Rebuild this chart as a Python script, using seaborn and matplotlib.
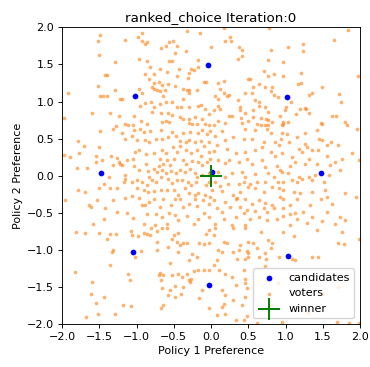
import matplotlib
matplotlib.use("Agg")
import matplotlib.pyplot as plt
import seaborn as sns

# Candidate positions in the two-policy preference space
cand_x = [-0.04, -1.02, 1.02, -1.47, 1.47, 0.01, -1.05, 1.03, -0.03]
cand_y = [1.49, 1.08, 1.06, 0.03, 0.04, 0.05, -1.03, -1.08, -1.48]

# Elected candidate
winner_x = [0.0]
winner_y = [0.0]

# Voter ideal points (policy 1, policy 2)
voters = [
    # upper left
    (-1.49, 1.90), (-1.52, 1.82), (-0.93, 1.92), (-0.98, 1.87), (-0.93, 1.81), (-0.86, 1.80),
    (-0.89, 1.77), (-1.16, 1.83), (-0.32, 1.95), (-0.15, 1.92), (-0.51, 1.82), (-0.57, 1.80),
    (-0.61, 1.75), (-0.46, 1.75), (-0.67, 1.72), (-0.34, 1.68), (-0.49, 1.66), (-1.51, 1.63),
    (-0.97, 1.57), (-1.29, 1.53), (-0.86, 1.54), (-0.56, 1.55), (-0.53, 1.54), (-0.17, 1.56),
    (0.00, 1.73), (-0.82, 1.46), (-0.68, 1.44), (-0.43, 1.44), (-0.27, 1.44), (-0.29, 1.39),
    (-0.23, 1.42), (-0.18, 1.47), (-0.89, 1.37), (-1.42, 1.36), (-1.39, 1.36), (-0.77, 1.37),
    (-0.83, 1.31), (-0.46, 1.34), (-0.31, 1.32), (-0.59, 1.40), (-0.70, 1.26), (-0.77, 1.25),
    (-0.58, 1.24), (-0.66, 1.22), (-0.48, 1.21), (-0.10, 1.26), (-0.07, 1.26), (-1.52, 1.21),
    (-1.29, 1.16), (-1.49, 1.07), (-1.45, 1.08), (-1.40, 1.08), (-1.22, 1.03), (-1.19, 1.04),
    (-1.92, 1.11), (-0.79, 1.20), (-0.77, 1.17), (-0.73, 1.15), (-0.69, 1.14), (-0.62, 1.16),
    (-0.37, 1.17), (-0.32, 1.16), (-0.30, 1.15), (-0.19, 1.16), (-0.97, 1.17), (-0.92, 1.12),
    (-0.30, 1.11), (-0.38, 1.03), (-0.52, 1.00), (-0.64, 1.07), (-0.89, 0.98), (-0.95, 0.94),
    (-0.80, 0.99), (-0.76, 0.92), (-0.79, 0.86), (-0.69, 0.97), (-0.61, 0.99), (-0.46, 0.92),
    (-0.40, 0.92), (-0.30, 0.92), (-0.17, 0.94), (-0.13, 0.95), (-0.08, 0.90), (-1.60, 0.84),
    (-1.35, 0.84), (-1.23, 0.80), (-1.04, 0.80), (-0.94, 0.74), (-0.67, 0.84), (-0.58, 0.84),
    (-0.52, 0.82), (-0.41, 0.79), (-0.38, 0.77), (-0.30, 0.77), (-0.22, 0.79), (-0.12, 0.77),
    (-0.03, 0.83), (-0.66, 0.72), (-0.61, 0.74), (-0.57, 0.73), (-1.16, 0.69), (-1.11, 0.68),
    (-1.05, 0.68), (-0.86, 0.70), (-1.28, 0.67), (-0.30, 0.71), (-0.26, 0.69), (-0.19, 0.70),
    (-0.08, 0.70), (-0.03, 0.68), (-1.98, 0.78),
    # upper right
    (0.17, 1.99), (0.78, 1.99), (1.84, 1.96), (0.26, 1.87), (0.19, 1.82), (0.27, 1.81),
    (0.38, 1.74), (0.42, 1.69), (0.36, 1.57), (0.42, 1.62), (0.80, 1.69), (1.04, 1.74),
    (1.23, 1.78), (1.24, 1.68), (1.65, 1.83), (0.76, 1.56), (0.96, 1.53), (0.71, 1.41),
    (0.84, 1.37), (0.76, 1.35), (1.21, 1.38), (0.97, 1.34), (0.53, 1.31), (0.50, 1.30),
    (0.65, 1.24), (0.73, 1.19), (0.82, 1.20), (0.56, 1.20), (0.09, 1.25), (0.18, 1.27),
    (1.17, 1.23), (1.21, 1.25), (1.97, 1.35), (1.49, 1.20), (0.12, 1.17), (0.17, 1.11),
    (0.21, 1.08), (0.24, 1.09), (0.05, 1.08), (0.46, 1.11), (0.55, 1.12), (0.80, 1.14),
    (0.84, 1.09), (0.90, 1.06), (1.35, 1.12), (1.32, 1.09), (1.72, 1.10), (1.75, 1.00),
    (0.36, 1.02), (0.59, 1.02), (0.64, 0.99), (0.64, 0.94), (0.72, 0.93), (0.77, 0.86),
    (0.39, 0.92), (0.39, 0.89), (0.09, 1.03), (0.09, 0.94), (0.12, 0.90), (0.04, 0.88),
    (1.08, 1.00), (1.00, 0.93), (0.99, 0.89), (1.20, 0.90), (1.26, 0.91), (1.27, 0.90),
    (1.32, 0.84), (1.14, 0.83), (0.46, 0.85), (0.56, 0.88), (0.24, 0.80), (0.28, 0.80),
    (0.40, 0.78), (0.57, 0.79), (0.67, 0.78), (0.74, 0.77), (0.77, 0.75), (0.82, 0.72),
    (0.50, 0.74), (0.93, 0.80), (0.96, 0.73), (1.03, 0.73), (0.97, 0.70), (0.10, 0.74),
    (0.19, 0.71), (0.41, 0.71), (0.62, 0.70), (0.67, 0.68), (0.73, 0.68), (0.77, 0.68),
    (1.62, 0.80), (1.68, 0.80), (1.80, 0.73), (1.82, 0.68), (1.47, 0.71), (1.49, 0.69),
    (0.04, 0.68), (0.95, 0.68), (1.96, 0.63),
    # middle left
    (-1.31, 0.63), (-1.20, 0.58), (-1.04, 0.62), (-0.95, 0.63), (-0.90, 0.59), (-0.82, 0.60),
    (-0.67, 0.61), (-0.52, 0.59), (-0.38, 0.58), (-0.28, 0.59), (-0.17, 0.57), (-0.12, 0.61),
    (-0.06, 0.56), (-0.01, 0.60), (-1.78, 0.47), (-1.71, 0.40), (-1.49, 0.60), (-1.16, 0.50),
    (-1.06, 0.53), (-0.99, 0.48), (-0.88, 0.48), (-0.83, 0.45), (-0.74, 0.49), (-0.66, 0.50),
    (-0.58, 0.52), (-0.47, 0.53), (-0.41, 0.47), (-0.34, 0.45), (-0.29, 0.48), (-0.22, 0.45),
    (-0.13, 0.47), (-0.03, 0.45), (-0.09, 0.40), (-1.50, 0.38), (-1.55, 0.27), (-1.46, 0.21),
    (-1.54, 0.18), (-1.89, 0.25), (-1.97, 0.28), (-1.77, 0.31), (-1.34, 0.26), (-1.26, 0.24),
    (-1.22, 0.16), (-1.19, 0.15), (-1.23, 0.18), (-1.13, 0.21), (-1.05, 0.22), (-1.02, 0.32),
    (-0.97, 0.34), (-0.87, 0.29), (-0.76, 0.31), (-0.66, 0.35), (-0.61, 0.30), (-0.51, 0.38),
    (-0.46, 0.32), (-0.41, 0.40), (-0.34, 0.34), (-0.27, 0.31), (-0.19, 0.34), (-0.13, 0.27),
    (-0.03, 0.32), (-0.01, 0.23), (-0.69, 0.23), (-0.65, 0.16), (-0.59, 0.21), (-0.55, 0.15),
    (-0.50, 0.23), (-0.38, 0.21), (-0.34, 0.16), (-0.26, 0.20), (-0.18, 0.19), (-0.12, 0.15),
    (-0.06, 0.19), (-1.80, 0.11), (-1.66, 0.11), (-1.31, 0.15), (-1.16, 0.01), (-1.15, -0.04),
    (-1.17, -0.09), (-1.03, 0.13), (-0.96, 0.08), (-0.87, 0.16), (-0.85, 0.06), (-0.77, 0.09),
    (-0.70, 0.13), (-0.73, 0.05), (-0.66, 0.08), (-0.61, 0.03), (-0.54, 0.06), (-0.47, 0.03),
    (-0.41, 0.08), (-0.35, 0.05), (-0.28, 0.09), (-0.22, 0.04), (-0.19, -0.02), (-0.12, 0.01),
    (-0.03, 0.03), (-1.37, -0.02), (-1.78, -0.20), (-1.69, -0.22), (-1.50, -0.17), (-1.43, -0.11),
    (-1.35, -0.17), (-1.26, -0.17), (-1.06, -0.09), (-0.99, -0.06), (-0.93, -0.09), (-0.86, -0.13),
    (-0.83, -0.02), (-0.79, -0.06), (-0.74, -0.08), (-0.67, -0.02), (-0.58, -0.04), (-0.53, -0.10),
    (-0.46, -0.06), (-0.39, -0.06), (-0.31, -0.09), (-0.27, -0.13), (-0.20, -0.09), (-0.07, -0.13),
    (-0.03, -0.09), (-0.99, -0.17), (-0.90, -0.20), (-0.85, -0.22), (-0.76, -0.21), (-0.67, -0.19),
    (-0.59, -0.20), (-0.50, -0.20), (-0.44, -0.26), (-0.41, -0.31), (-0.35, -0.17), (-0.30, -0.24),
    (-0.22, -0.26), (-0.17, -0.24), (-0.08, -0.26), (-0.01, -0.29), (-1.96, -0.33), (-1.64, -0.39),
    (-1.61, -0.42), (-1.53, -0.33), (-1.42, -0.44), (-1.32, -0.33), (-1.16, -0.30), (-1.06, -0.28),
    (-0.96, -0.30), (-0.93, -0.40), (-0.88, -0.39), (-0.83, -0.35), (-0.76, -0.32), (-0.68, -0.42),
    (-0.64, -0.32), (-0.54, -0.39), (-0.48, -0.31), (-0.37, -0.42), (-0.29, -0.38), (-0.21, -0.31),
    (-0.19, -0.41), (-0.11, -0.33), (-0.03, -0.38), (-1.44, -0.58), (-1.05, -0.57), (-0.90, -0.65),
    (-0.74, -0.52), (-0.66, -0.56), (-0.57, -0.50), (-0.48, -0.53), (-0.44, -0.60), (-0.32, -0.55),
    (-0.23, -0.65), (-0.17, -0.58), (-0.10, -0.50), (-0.03, -0.56), (-1.58, -0.65), (-1.26, -0.49),
    (-1.13, -0.50), (-0.86, -0.52), (-0.59, -0.65), (-0.75, -0.67),
    # middle right
    (0.15, 0.60), (0.46, 0.63), (0.59, 0.62), (0.75, 0.63), (0.81, 0.57), (0.95, 0.58),
    (1.02, 0.56), (0.94, 0.50), (1.05, 0.45), (1.15, 0.52), (1.26, 0.57), (1.42, 0.62),
    (1.45, 0.50), (1.49, 0.48), (1.61, 0.45), (1.71, 0.41), (1.56, 0.41), (0.06, 0.54),
    (0.19, 0.48), (0.30, 0.52), (0.44, 0.50), (0.55, 0.49), (0.71, 0.45), (0.86, 0.45),
    (0.91, 0.42), (1.26, 0.43), (1.29, 0.39), (1.18, 0.36), (1.35, 0.34), (1.44, 0.35),
    (0.08, 0.41), (0.04, 0.33), (0.21, 0.36), (0.33, 0.31), (0.46, 0.32), (0.59, 0.34),
    (0.68, 0.39), (0.80, 0.32), (0.86, 0.26), (0.95, 0.30), (1.09, 0.25), (1.22, 0.32),
    (1.31, 0.23), (1.56, 0.27), (1.67, 0.18), (1.76, 0.23), (1.89, 0.30), (1.98, 0.21),
    (0.10, 0.21), (0.19, 0.17), (0.24, 0.21), (0.37, 0.19), (0.48, 0.23), (0.55, 0.16),
    (0.68, 0.21), (0.73, 0.12), (0.88, 0.13), (0.93, 0.08), (0.95, 0.05), (1.06, 0.13),
    (1.13, 0.18), (1.26, 0.16), (1.42, 0.16), (1.60, 0.14), (1.73, 0.07), (0.10, 0.05),
    (0.19, -0.02), (0.28, 0.03), (0.42, 0.05), (0.46, -0.02), (0.59, 0.02), (0.77, 0.03),
    (0.84, -0.02), (1.04, 0.03), (1.18, -0.02), (1.31, -0.02), (1.40, 0.01), (1.58, 0.01),
    (0.06, -0.08), (0.12, -0.14), (0.23, -0.11), (0.37, -0.11), (0.44, -0.08), (0.53, -0.11),
    (0.62, -0.08), (0.73, -0.08), (0.90, -0.08), (0.97, -0.08), (1.09, -0.06), (1.15, -0.08),
    (1.22, -0.04), (1.35, -0.06), (1.51, -0.08), (0.01, -0.20), (0.15, -0.21), (0.30, -0.26),
    (0.35, -0.30), (0.39, -0.22), (0.50, -0.15), (0.59, -0.17), (0.71, -0.22), (0.82, -0.15),
    (0.91, -0.17), (0.97, -0.19), (1.11, -0.22), (1.20, -0.23), (1.35, -0.22), (1.53, -0.20),
    (1.56, -0.29), (1.80, -0.24), (0.04, -0.33), (0.19, -0.35), (0.33, -0.31), (0.46, -0.31),
    (0.55, -0.38), (0.64, -0.33), (0.73, -0.37), (0.82, -0.40), (0.93, -0.29), (0.97, -0.32),
    (1.06, -0.40), (1.15, -0.32), (1.33, -0.39), (1.47, -0.31), (1.62, -0.38), (1.94, -0.29),
    (0.08, -0.44), (0.15, -0.49), (0.26, -0.42), (0.39, -0.42), (0.48, -0.46), (0.59, -0.47),
    (0.71, -0.44), (0.75, -0.49), (0.84, -0.44), (0.97, -0.44), (1.06, -0.52), (1.13, -0.50),
    (1.24, -0.49), (1.35, -0.56), (1.56, -0.49), (1.73, -0.56), (0.17, -0.58), (0.33, -0.56),
    (0.44, -0.51), (0.53, -0.58), (0.64, -0.56), (0.75, -0.60), (0.88, -0.59), (0.97, -0.55),
    (1.15, -0.58), (1.49, -0.61), (1.67, -0.65), (1.80, -0.60), (0.06, -0.65), (0.28, -0.66),
    (0.46, -0.66), (1.06, -0.67), (1.29, -0.64),
    # lower left
    (-1.81, -0.76), (-1.69, -0.77), (-1.51, -0.77), (-1.35, -0.79), (-1.28, -0.78), (-1.39, -0.86),
    (-1.08, -0.74), (-1.06, -0.80), (-0.98, -0.81), (-0.90, -0.77), (-0.86, -0.79), (-0.82, -0.80),
    (-0.80, -0.71), (-0.73, -0.74), (-0.66, -0.71), (-0.59, -0.70), (-0.50, -0.80), (-0.44, -0.77),
    (-0.46, -0.89), (-0.52, -0.85), (-0.41, -0.94), (-0.38, -0.91), (-0.32, -0.91), (-0.44, -1.03),
    (-0.30, -1.14), (-0.26, -1.05), (-0.19, -1.09), (-0.16, -0.91), (-0.10, -0.92), (-0.03, -0.91),
    (-0.07, -0.79), (-0.03, -0.73), (-0.73, -0.89), (-0.73, -1.00), (-0.58, -0.96), (-1.32, -1.00),
    (-1.33, -1.03), (-0.94, -1.01), (-1.02, -1.10), (-0.55, -1.18), (-1.36, -1.21), (-1.82, -1.30),
    (-1.11, -1.33), (-1.09, -1.41), (-0.68, -1.31), (-0.70, -1.34), (-0.64, -1.34), (-0.52, -1.34),
    (-0.44, -1.32), (-0.67, -1.41), (-0.66, -1.51), (-0.55, -1.54), (-0.48, -1.49), (-0.39, -1.36),
    (-0.32, -1.32), (-0.27, -1.39), (-0.23, -1.29), (-0.17, -1.27), (-0.10, -1.27), (-0.03, -1.27),
    (-0.30, -1.41), (-0.28, -1.43), (-0.12, -1.54), (-0.16, -1.65), (-1.60, -1.44), (-1.61, -1.59),
    (-1.43, -1.63), (-1.55, -1.72), (-1.52, -1.87), (-1.68, -1.90), (-1.29, -1.87), (-1.18, -1.75),
    (-1.08, -1.76), (-0.67, -1.78), (-0.65, -1.75), (-0.58, -1.61), (-0.48, -1.63), (-0.40, -1.59),
    (-0.03, -1.79), (-0.37, -1.50),
    # lower right
    (0.06, -0.71), (0.30, -0.70), (0.46, -0.71), (0.67, -0.76), (0.96, -0.76), (1.11, -0.82),
    (1.42, -0.73), (1.76, -0.76), (1.98, -0.85), (1.78, -0.92), (1.71, -0.91), (0.04, -0.80),
    (0.17, -0.89), (0.21, -0.91), (0.39, -0.94), (0.50, -0.89), (0.57, -0.91), (0.77, -0.87),
    (0.82, -0.91), (0.81, -0.98), (0.73, -1.04), (0.62, -0.97), (0.48, -1.01), (0.37, -1.00),
    (0.30, -1.03), (0.10, -1.00), (0.15, -1.03), (0.08, -1.14), (0.04, -1.21), (0.35, -1.12),
    (0.46, -1.13), (0.50, -1.10), (0.50, -1.04), (0.64, -1.09), (0.74, -1.13), (0.91, -1.10),
    (1.09, -1.12), (1.13, -1.14), (1.35, -1.10), (1.43, -1.09), (0.11, -1.27), (0.19, -1.32),
    (0.28, -1.36), (0.44, -1.27), (0.46, -1.39), (0.45, -1.45), (0.48, -1.52), (0.33, -1.48),
    (0.15, -1.54), (0.19, -1.61), (0.17, -1.73), (0.15, -1.77), (0.30, -1.68), (0.42, -1.75),
    (0.46, -1.63), (0.08, -1.88), (0.19, -1.86), (0.33, -1.95), (0.44, -1.94), (0.48, -1.89),
    (0.62, -1.99), (1.69, -1.97), (1.85, -1.99), (1.98, -1.99), (0.95, -1.97), (0.72, -1.22),
    (0.90, -1.45), (1.20, -1.35), (1.50, -1.60), (0.80, -1.75), (1.30, -1.85), (1.70, -1.50),
]
voter_x = [v[0] for v in voters]
voter_y = [v[1] for v in voters]

plt.rcParams.update({
    "font.family": "DejaVu Sans",
    "font.size": 8,
    "axes.linewidth": 0.65,
    "xtick.major.width": 0.65,
    "ytick.major.width": 0.65,
    "xtick.major.size": 2.8,
    "ytick.major.size": 2.8,
    "xtick.major.pad": 2.8,
    "ytick.major.pad": 2.8,
})

fig = plt.figure(figsize=(3.70, 3.67), dpi=100)
ax = fig.add_axes([0.1676, 0.1172, 0.8054, 0.8083])

sns.scatterplot(x=cand_x, y=cand_y, color="blue", s=17, linewidth=0,
                label="candidates", ax=ax, zorder=3)
sns.scatterplot(x=voter_x, y=voter_y, color="tab:orange", s=7, alpha=0.6,
                linewidth=0, label="voters", ax=ax, zorder=2)
sns.scatterplot(x=winner_x, y=winner_y, color="green", marker="+", s=260,
                linewidth=1.4, label="winner", ax=ax, zorder=4)

ax.set_xlim(-2, 2)
ax.set_ylim(-2, 2)
ticks = [-2.0, -1.5, -1.0, -0.5, 0.0, 0.5, 1.0, 1.5, 2.0]
ax.set_xticks(ticks)
ax.set_yticks(ticks)
ax.set_xlabel("Policy 1 Preference", fontsize=8, labelpad=3.2)
ax.set_ylabel("Policy 2 Preference", fontsize=8, labelpad=3.2)
ax.set_title("ranked_choice Iteration:0", fontsize=9.6, pad=4.8)
ax.legend(loc="lower right", fontsize=8)

fig.savefig("out.png", dpi=100)
